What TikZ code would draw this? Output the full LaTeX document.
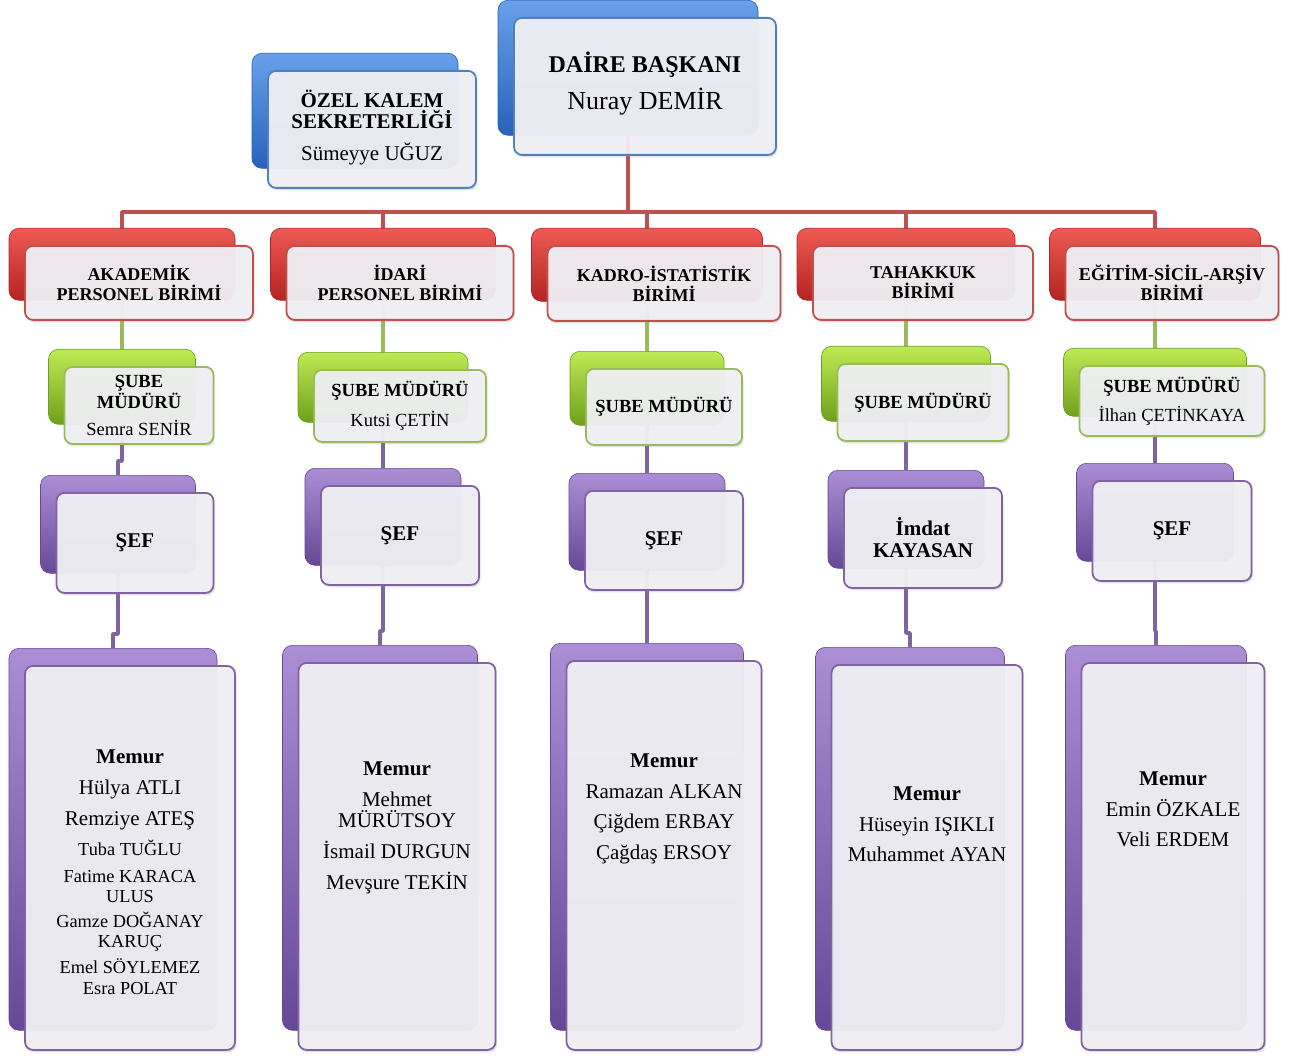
\documentclass[tikz,border=0pt]{standalone}
\usepackage{fontspec}
\setmainfont{Liberation Serif}
\usetikzlibrary{calc,shadows}
\pgfdeclarelayer{bg}
\pgfsetlayers{bg,main}
\definecolor{blueL}{RGB}{104,160,234}\definecolor{blueD}{RGB}{40,98,186}\definecolor{blueE}{RGB}{79,129,189}
\definecolor{redL}{RGB}{238,90,84}\definecolor{redD}{RGB}{180,36,34}\definecolor{redE}{RGB}{192,80,77}
\definecolor{greenL}{RGB}{190,234,84}\definecolor{greenD}{RGB}{110,160,28}\definecolor{greenE}{RGB}{155,187,89}
\definecolor{purpleL}{RGB}{172,142,214}\definecolor{purpleD}{RGB}{102,72,150}\definecolor{purpleE}{RGB}{128,100,162}
\definecolor{frontfill}{RGB}{240,240,244}
\newcommand\orgunit[8]{%
  \node[backbox=#2, minimum width=#5pt, minimum height=#6pt, anchor=north] (#1b) at (#3,#4) {};
  \node[frontbox=#2, minimum width=#5pt+2pt, minimum height=#6pt+2pt, anchor=north, #7] (#1) at ([xshift=17pt,yshift=-17pt]#1b.north) {#8};
}
\begin{document}
\begin{tikzpicture}[x=1pt,y=-1pt,
  backbox/.style={rounded corners=10pt, top color=#1L, bottom color=#1D, draw=#1D, line width=0.6pt},
  frontbox/.style={rounded corners=8pt, draw=#1E, line width=1.8pt, fill=frontfill, fill opacity=0.95, text opacity=1, align=center, inner sep=0pt, drop shadow={opacity=0.22, shadow xshift=1.5pt, shadow yshift=-2.5pt}},
  conn/.style={line width=3.6pt, draw=#1E, line join=round},
  redfont/.style={font=\fontsize{18}{20}\selectfont\bfseries},
  greenfont/.style={font=\fontsize{18.5}{18}\selectfont},
  seffont/.style={font=\fontsize{21}{22}\selectfont\bfseries},
  memfont/.style={align=center, inner sep=0pt}]
\useasboundingbox (0,0) rectangle (1295,1056);

% top
\orgunit{dai}{blue}{628}{0}{260}{135}{font=\fontsize{24}{37}\selectfont, text depth=11pt}{\textbf{DAİRE BAŞKANI}\\{\fontsize{26}{37}\selectfont Nuray DEMİR}}
\orgunit{oz}{blue}{355}{53}{206}{115}{font=\fontsize{21}{21}\selectfont, text depth=9pt}{\textbf{ÖZEL KALEM}\\\textbf{SEKRETERLİĞİ}\\[11pt]Sümeyye UĞUZ}

% red row
\orgunit{r1}{red}{122}{228}{226}{72}{redfont}{AKADEMİK\\PERSONEL BİRİMİ}
\orgunit{r2}{red}{383}{228}{225}{72}{redfont}{İDARİ\\PERSONEL BİRİMİ}
\orgunit{r3}{red}{647}{228}{231}{73}{redfont}{KADRO-İSTATİSTİK\\BİRİMİ}
\orgunit{r4}{red}{906}{228}{218}{72}{redfont}{TAHAKKUK\\BİRİMİ}
\orgunit{r5}{red}{1155}{228}{211}{72}{redfont}{EĞİTİM-SİCİL-ARŞİV\\BİRİMİ}

% green row
\orgunit{g1}{green}{122}{349}{147}{75}{greenfont}{\textbf{ŞUBE}\\\textbf{MÜDÜRÜ}\\[9pt]Semra SENİR}
\orgunit{g2}{green}{383}{352}{170}{70}{greenfont}{\textbf{ŞUBE MÜDÜRÜ}\\[10pt]Kutsi ÇETİN}
\orgunit{g3}{green}{647}{351}{154}{74}{greenfont}{\textbf{ŞUBE MÜDÜRÜ}}
\orgunit{g4}{green}{906}{346}{169}{75}{greenfont}{\textbf{ŞUBE MÜDÜRÜ}}
\orgunit{g5}{green}{1155}{348}{183}{68}{greenfont}{\textbf{ŞUBE MÜDÜRÜ}\\[9pt]İlhan ÇETİNKAYA}

% sef row
\orgunit{s1}{purple}{118}{475}{155}{98}{seffont}{ŞEF}
\orgunit{s2}{purple}{383}{468}{156}{97}{seffont}{ŞEF}
\orgunit{s3}{purple}{647}{473}{156}{97}{seffont}{ŞEF}
\orgunit{s4}{purple}{906}{470}{156}{98}{seffont}{İmdat\\KAYASAN}
\orgunit{s5}{purple}{1155}{463}{157}{98}{seffont}{ŞEF}

% memur row
\orgunit{m1}{purple}{113}{648}{208}{382}{}{}
\orgunit{m2}{purple}{380}{645}{195}{385}{}{}
\orgunit{m3}{purple}{647}{643}{193}{387}{}{}
\orgunit{m4}{purple}{910}{647}{189}{383}{}{}
\orgunit{m5}{purple}{1156}{645}{181}{385}{}{}

\node[memfont, font=\fontsize{21}{20}\selectfont] (m1t) at (130,872) {\textbf{Memur}\\[11pt]Hülya ATLI\\[11pt]Remziye ATEŞ\\[9pt]{\fontsize{18.3}{20}\selectfont Tuba TUĞLU}\\[7pt]{\fontsize{18.3}{20}\selectfont Fatime KARACA}\\{\fontsize{18.3}{20}\selectfont ULUS}\\[5pt]{\fontsize{18.3}{20}\selectfont Gamze DOĞANAY}\\{\fontsize{18.3}{20}\selectfont KARUÇ}\\[6pt]{\fontsize{18.3}{20}\selectfont Emel SÖYLEMEZ}\\[1pt]{\fontsize{18.3}{20}\selectfont Esra POLAT}};
\node[memfont, font=\fontsize{21}{21}\selectfont] (m2t) at (397,828) {\textbf{Memur}\\[10pt]Mehmet\\MÜRÜTSOY\\[10pt]İsmail DURGUN\\[10pt]Mevşure TEKİN};
\node[memfont, font=\fontsize{21}{21}\selectfont] (m3t) at (664,809) {\textbf{Memur}\\[10pt]Ramazan ALKAN\\[9pt]Çiğdem ERBAY\\[10pt]Çağdaş ERSOY};
\node[memfont, font=\fontsize{21}{21}\selectfont] (m4t) at (927,824) {\textbf{Memur}\\[10pt]Hüseyin IŞIKLI\\[9pt]Muhammet AYAN};
\node[memfont, font=\fontsize{21}{21}\selectfont] (m5t) at (1173,809) {\textbf{Memur}\\[10pt]Emin ÖZKALE\\[9pt]Veli ERDEM};

% connectors
\begin{pgfonlayer}{bg}
\coordinate (bus) at (628,212);
\draw[conn=red] (daib.center) -- (bus);
\foreach \i in {1,...,5}{
  \draw[conn=red] (r\i b.center) |- (bus);
  \draw[conn=green] (r\i b.center) -- (g\i b.center);
  \draw[conn=purple] (g\i b.center) |- ($(s\i b.north)+(0,-14)$) -- (s\i b.north);
  \draw[conn=purple] (s\i b.center) |- ($(m\i b.north)+(0,-14)$) -- (m\i b.north);
}
\end{pgfonlayer}
\end{tikzpicture}
\end{document}
